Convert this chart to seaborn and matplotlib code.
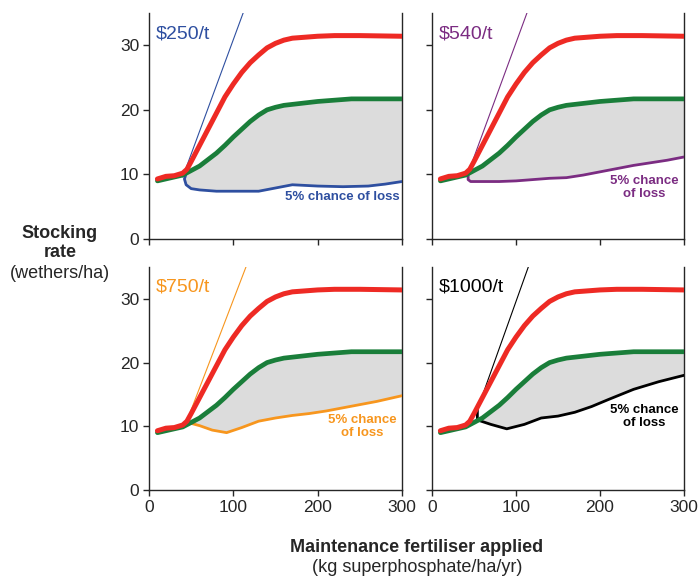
import numpy as np
import pandas as pd
import matplotlib
matplotlib.use("Agg")
import matplotlib.pyplot as plt
import seaborn as sns

sns.set_style("ticks")
plt.rcParams['font.family'] = ['Liberation Sans', 'DejaVu Sans']

# Potential stocking rate (red) and safe stocking rate (green), same in every panel
red_x = [10, 20, 30, 40, 45, 50, 60, 70, 80, 90, 100, 110, 120, 130, 140, 150, 160, 170, 180, 200, 220, 250, 300]
red_y = [9.3, 9.7, 9.8, 10.2, 10.8, 12.0, 14.5, 17.0, 19.5, 22.0, 24.0, 25.8, 27.3, 28.5, 29.6, 30.3, 30.8, 31.1, 31.2, 31.4, 31.5, 31.5, 31.4]
green_x = [10, 20, 30, 40, 50, 60, 70, 80, 90, 100, 110, 120, 130, 140, 150, 160, 180, 200, 220, 240, 260, 300]
green_y = [9.0, 9.3, 9.6, 9.9, 10.6, 11.3, 12.3, 13.3, 14.5, 15.8, 17.0, 18.2, 19.2, 20.0, 20.4, 20.7, 21.0, 21.3, 21.5, 21.7, 21.7, 21.7]

prices = ["$250/t", "$540/t", "$750/t", "$1000/t"]
colors = ["#2e4fa0", "#7b2c82", "#f7961e", "#000000"]

# 5% chance of loss curves
loss_x = [
    [45, 42, 44, 50, 60, 80, 100, 130, 150, 170, 200, 230, 260, 280, 300],
    [43, 43, 46, 60, 80, 100, 120, 140, 160, 180, 200, 220, 240, 260, 280, 300],
    [46, 60, 75, 92, 110, 130, 150, 170, 190, 210, 230, 250, 270, 300],
    [54, 54, 70, 89, 110, 130, 150, 170, 190, 210, 240, 270, 300],
]
loss_y = [
    [10.5, 9.3, 8.4, 7.8, 7.6, 7.4, 7.4, 7.4, 7.9, 8.4, 8.2, 8.1, 8.2, 8.5, 8.9],
    [10.2, 9.2, 8.9, 8.9, 8.9, 9.0, 9.2, 9.4, 9.5, 9.9, 10.4, 10.9, 11.4, 11.8, 12.2, 12.7],
    [10.6, 10.1, 9.4, 9.0, 9.8, 10.8, 11.3, 11.7, 12.0, 12.4, 12.9, 13.4, 13.9, 14.8],
    [12.8, 11.0, 10.3, 9.6, 10.3, 11.3, 11.6, 12.2, 13.1, 14.2, 15.8, 17.0, 18.0],
]
# thin price lines (start, end)
price_x = [[40, 115], [43, 115], [46, 117], [54, 116]]
price_y = [[9.6, 36.2], [10.2, 35.7], [11.2, 35.7], [12.6, 35.5]]

label_pos = [(297, 6.5), (253, 8.0), (253, 10.0), (253, 11.5)]
label_txt = ["5% chance of loss", "5% chance\nof loss", "5% chance\nof loss", "5% chance\nof loss"]

fig = plt.figure(figsize=(7, 5.79), dpi=100)
rects = [
    [149/700, 1-239/579, 253/700, 226/579],
    [432/700, 1-239/579, 252/700, 226/579],
    [149/700, 1-490/579, 253/700, 223/579],
    [432/700, 1-490/579, 252/700, 223/579],
]

gx = np.array(green_x, dtype=float)
gy = np.array(green_y, dtype=float)

for i in range(4):
    ax = fig.add_axes(rects[i])
    lx = np.array(loss_x[i], dtype=float)
    ly = np.array(loss_y[i], dtype=float)
    # shaded region between green and loss curve
    x0 = lx[0]
    mask = gx > x0
    top_x = np.concatenate([[x0], gx[mask]])
    top_y = np.concatenate([[np.interp(x0, gx, gy)], gy[mask]])
    px = np.concatenate([top_x, lx[::-1]])
    py = np.concatenate([top_y, ly[::-1]])
    ax.fill(px, py, color="#dcdcdc", lw=0, zorder=1)

    sns.lineplot(x=price_x[i], y=price_y[i], ax=ax, color=colors[i], lw=0.8, zorder=2)
    sns.lineplot(x=loss_x[i], y=loss_y[i], ax=ax, color=colors[i], lw=2.0, sort=False, estimator=None, zorder=3)
    sns.lineplot(x=green_x, y=green_y, ax=ax, color="#1a7e3a", lw=3.4, zorder=4)
    sns.lineplot(x=red_x, y=red_y, ax=ax, color="#ee2a24", lw=3.6, zorder=5)

    ax.set_xlim(0, 300)
    ax.set_ylim(0, 35)
    ax.set_xticks([0, 100, 200, 300])
    ax.set_yticks([0, 10, 20, 30])
    ax.spines['top'].set_visible(False)
    for s in ['left', 'right', 'bottom']:
        ax.spines[s].set_linewidth(1.0)
    ax.tick_params(labelsize=12.5, length=4, width=1, pad=3)
    if i < 2:
        ax.set_xticklabels([])
    if i % 2 == 1:
        ax.set_yticklabels([])
    ax.set_xlabel("")
    ax.set_ylabel("")
    ax.text(8, 31.8, prices[i].replace("$", r"\$"), color=colors[i], fontsize=14, va="center", ha="left")
    ha = "right" if i == 0 else "center"
    ax.text(label_pos[i][0], label_pos[i][1], label_txt[i], color=colors[i], fontsize=9.5,
            fontweight="bold", ha=ha, va="center", linespacing=1.1)

fig.text(60/700, 1-243/579, "Stocking\nrate", ha="center", va="center", fontsize=13, fontweight="bold", linespacing=1.2)
fig.text(60/700, 1-273/579, "(wethers/ha)", ha="center", va="center", fontsize=13)
fig.text(417/700, 1-548/579, "Maintenance fertiliser applied", ha="center", va="center", fontsize=13, fontweight="bold")
fig.text(417/700, 1-568/579, "(kg superphosphate/ha/yr)", ha="center", va="center", fontsize=13)

fig.savefig("out.png", dpi=100)
